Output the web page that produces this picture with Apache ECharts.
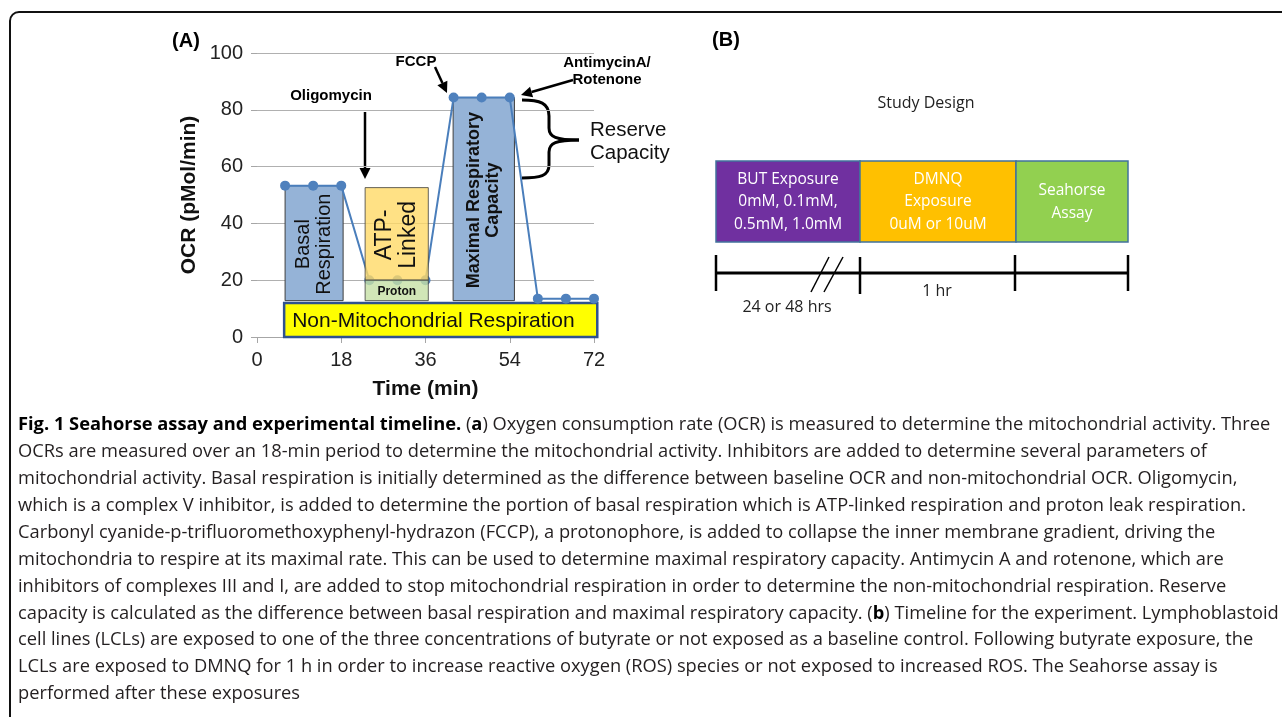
<!DOCTYPE html>
<html>
<head>
<meta charset="utf-8">
<script src="https://cdn.jsdelivr.net/npm/echarts@6/dist/echarts.min.js"></script>
<style>
html,body{margin:0;padding:0;background:#fff;}
#chart{width:1282px;height:717px;}
</style>
</head>
<body>
<div id="chart"></div>
<script>
// ---------- Panel A data ----------
const timePoints = [6, 12, 18, 24, 30, 36, 42, 48, 54, 60, 66, 72];
const ocrValues  = [53.3, 53.3, 53.3, 20, 20, 20, 84.3, 84.3, 84.3, 13.5, 13.5, 13.5];
const xTickValues = [0, 18, 36, 54, 72];
const yTickValues = [0, 20, 40, 60, 80, 100];

const regionNames = ['Basal\nRespiration', 'ATP-\nLinked', 'Proton', 'Maximal Respiratory\nCapacity', 'Non-Mitochondrial Respiration'];
const regionStart = [6.0, 23.1, 23.1, 41.9, 5.8];
const regionEnd   = [18.4, 36.6, 36.6, 55.0, 72.7];
const regionLow   = [12.8, 20.0, 12.8, 12.8, 0.0];
const regionHigh  = [53.3, 52.6, 20.0, 84.3, 12.0];

const injections = ['Oligomycin', 'FCCP', 'AntimycinA/\nRotenone'];

// ---------- Panel B data ----------
const stageLabels = ['BUT Exposure\n0mM, 0.1mM,\n0.5mM, 1.0mM', 'DMNQ\nExposure\n0uM or 10uM', 'Seahorse\nAssay'];
const durationLabels = ['24 or 48 hrs', '1 hr'];

// ---------- Caption ----------
const captionLines = [
  '{b|Fig. 1 Seahorse assay and experimental timeline.} ({b|a}) Oxygen consumption rate (OCR) is measured to determine the mitochondrial activity. Three',
  'OCRs are measured over an 18-min period to determine the mitochondrial activity. Inhibitors are added to determine several parameters of',
  'mitochondrial activity. Basal respiration is initially determined as the difference between baseline OCR and non-mitochondrial OCR. Oligomycin,',
  'which is a complex V inhibitor, is added to determine the portion of basal respiration which is ATP-linked respiration and proton leak respiration.',
  'Carbonyl cyanide-p-trifluoromethoxyphenyl-hydrazon (FCCP), a protonophore, is added to collapse the inner membrane gradient, driving the',
  'mitochondria to respire at its maximal rate. This can be used to determine maximal respiratory capacity. Antimycin A and rotenone, which are',
  'inhibitors of complexes III and I, are added to stop mitochondrial respiration in order to determine the non-mitochondrial respiration. Reserve',
  'capacity is calculated as the difference between basal respiration and maximal respiratory capacity. ({b|b}) Timeline for the experiment. Lymphoblastoid',
  'cell lines (LCLs) are exposed to one of the three concentrations of butyrate or not exposed as a baseline control. Following butyrate exposure, the',
  'LCLs are exposed to DMNQ for 1 h in order to increase reactive oxygen (ROS) species or not exposed to increased ROS. The Seahorse assay is',
  'performed after these exposures'
];

// ---------- styles ----------
const ARIAL = "'Liberation Sans', Arial, sans-serif";
const SANS = "'Open Sans', 'Noto Sans', sans-serif";
const regionStyle = [
  {fill: '#95b3d7', stroke: '#3f3f3f', lw: 1, opacity: 1, font: {size: 20, weight: 'normal'}, rot: true, color: '#111'},
  {fill: '#ffd966', stroke: '#3f3f3f', lw: 1, opacity: 0.8, font: {size: 23, weight: 'normal'}, rot: true, color: '#111'},
  {fill: '#c5e0a5', stroke: '#3f3f3f', lw: 1, opacity: 0.8, font: {size: 12, weight: 'bold'}, rot: false, color: '#111'},
  {fill: '#95b3d7', stroke: '#3f3f3f', lw: 1, opacity: 1, font: {size: 18, weight: 'bold'}, rot: true, color: '#111'},
  {fill: '#ffff00', stroke: '#2f528f', lw: 2.5, opacity: 1, font: {size: 21, weight: 'normal'}, rot: false, left: true, color: '#111'}
];

const chart = echarts.init(document.getElementById('chart'), null, {renderer: 'canvas'});

function regionSeries(indices, z) {
  return {
    type: 'custom',
    z: z,
    clip: false,
    silent: true,
    data: indices.map(i => [regionStart[i], regionEnd[i], regionLow[i], regionHigh[i]]),
    renderItem: function (params, api) {
      const i = indices[params.dataIndex];
      const st = regionStyle[i];
      const tl = api.coord([api.value(0), api.value(3)]);
      const br = api.coord([api.value(1), api.value(2)]);
      const w = br[0] - tl[0], h = br[1] - tl[1];
      const cx = tl[0] + w / 2, cy = tl[1] + h / 2;
      return {
        type: 'group',
        children: [{
          type: 'rect',
          shape: {x: tl[0], y: tl[1], width: w, height: h},
          style: {fill: st.fill, stroke: st.stroke, lineWidth: st.lw, opacity: st.opacity}
        }, {
          type: 'text',
          x: st.left ? tl[0] + 8 : cx,
          y: cy + 1,
          rotation: st.rot ? Math.PI / 2 : 0,
          style: {
            text: regionNames[i],
            fill: st.color,
            fontFamily: ARIAL,
            fontSize: st.font.size,
            fontWeight: st.font.weight,
            align: st.left ? 'left' : 'center',
            verticalAlign: 'middle',
            lineHeight: st.font.size * 1.05
          }
        }]
      };
    }
  };
}

// annotation graphics (arrows, brace)
function arrow(x1, y1, x2, y2) {
  const ang = Math.atan2(y2 - y1, x2 - x1);
  const L = 11, W = 5.5;
  const bx = x2 - L * Math.cos(ang), by = y2 - L * Math.sin(ang);
  const nx = -Math.sin(ang), ny = Math.cos(ang);
  return [
    {type: 'line', shape: {x1: x1, y1: y1, x2: bx, y2: by}, style: {stroke: '#000', lineWidth: 2.5}},
    {type: 'polygon', shape: {points: [[x2, y2], [bx + nx * W, by + ny * W], [bx - nx * W, by - ny * W]]}, style: {fill: '#000'}}
  ];
}
function bez(x1, y1, c1x, c1y, c2x, c2y, x2, y2) {
  return {type: 'bezierCurve', shape: {x1: x1, y1: y1, cpx1: c1x, cpy1: c1y, cpx2: c2x, cpy2: c2y, x2: x2, y2: y2}, style: {fill: null, stroke: '#000', lineWidth: 3}};
}
function seg(x1, y1, x2, y2, lw) {
  return {type: 'line', shape: {x1: x1, y1: y1, x2: x2, y2: y2}, style: {stroke: '#000', lineWidth: lw}};
}

const graphics = [];
// outer border
graphics.push({type: 'rect', shape: {x: 10, y: 12, width: 1320, height: 740, r: 9}, style: {fill: null, stroke: '#111', lineWidth: 2}});
// panel letters
graphics.push({type: 'text', x: 186, y: 41, style: {text: '(A)', fontFamily: ARIAL, fontSize: 20, fontWeight: 'bold', fill: '#000', align: 'center', verticalAlign: 'middle'}});
graphics.push({type: 'text', x: 726, y: 40, style: {text: '(B)', fontFamily: ARIAL, fontSize: 20, fontWeight: 'bold', fill: '#000', align: 'center', verticalAlign: 'middle'}});
// injection labels
graphics.push({type: 'text', x: 331, y: 96, style: {text: injections[0], fontFamily: ARIAL, fontSize: 15, fontWeight: 'bold', fill: '#000', align: 'center', verticalAlign: 'middle'}});
graphics.push({type: 'text', x: 416, y: 62, style: {text: injections[1], fontFamily: ARIAL, fontSize: 15, fontWeight: 'bold', fill: '#000', align: 'center', verticalAlign: 'middle'}});
graphics.push({type: 'text', x: 607, y: 71, style: {text: injections[2], fontFamily: ARIAL, fontSize: 15, fontWeight: 'bold', fill: '#000', align: 'center', verticalAlign: 'middle', lineHeight: 17}});
arrow(365, 112, 365, 179).forEach(g => graphics.push(g));
arrow(435, 67, 447, 93).forEach(g => graphics.push(g));
arrow(573, 80, 521, 95).forEach(g => graphics.push(g));
// brace
graphics.push(bez(522, 100, 540, 100, 549, 103, 549, 116));
graphics.push(seg(549, 116, 549, 128, 3));
graphics.push(bez(549, 128, 549, 137, 556, 140, 579, 140));
graphics.push(bez(579, 140, 556, 140, 549, 143, 549, 152));
graphics.push(seg(549, 152, 549, 165, 3));
graphics.push(bez(549, 165, 549, 176, 540, 178, 522, 178));
graphics.push({type: 'text', x: 590, y: 142, style: {text: 'Reserve\nCapacity', fontFamily: ARIAL, fontSize: 20.5, fill: '#111', align: 'left', verticalAlign: 'middle', lineHeight: 23}});

// ---------- Panel B ----------
graphics.push({type: 'text', x: 926, y: 103, style: {text: 'Study Design', fontFamily: SANS, fontSize: 16, fill: '#222', align: 'center', verticalAlign: 'middle'}});
const boxX = [716, 860, 1016, 1128];
const boxFill = ['#7030a0', '#ffc000', '#92d050'];
for (let i = 0; i < 3; i++) {
  graphics.push({type: 'rect', shape: {x: boxX[i], y: 161, width: boxX[i + 1] - boxX[i], height: 81}, style: {fill: boxFill[i], stroke: '#41719c', lineWidth: 1.5}});
  graphics.push({type: 'text', x: (boxX[i] + boxX[i + 1]) / 2, y: 202, style: {text: stageLabels[i], fontFamily: SANS, fontSize: 15.5, fill: '#fff', align: 'center', verticalAlign: 'middle', lineHeight: 22.5}});
}
// timeline
graphics.push(seg(716, 273, 1128, 273, 3));
[[716, 255, 291], [860, 257, 294], [1015, 255, 291], [1128, 255, 291]].forEach(t => graphics.push(seg(t[0], t[1], t[0], t[2], 2.5)));
graphics.push(seg(829, 257, 811, 292, 1.5));
graphics.push(seg(843, 257, 824, 292, 1.5));
graphics.push({type: 'text', x: 787, y: 307, style: {text: durationLabels[0], fontFamily: SANS, fontSize: 16, fill: '#222', align: 'center', verticalAlign: 'middle'}});
graphics.push({type: 'text', x: 937, y: 291, style: {text: durationLabels[1], fontFamily: SANS, fontSize: 16, fill: '#222', align: 'center', verticalAlign: 'middle'}});

// ---------- caption ----------
const CAP_SIZE = 18.3;
captionLines.forEach((ln, i) => {
  graphics.push({
    type: 'text', x: 18, y: 425 + i * 26.9,
    style: {
      text: ln, fontFamily: SANS, fontSize: CAP_SIZE, fill: '#231f20', align: 'left', verticalAlign: 'middle',
      rich: {b: {fontFamily: SANS, fontSize: CAP_SIZE, fontWeight: 'bold', fill: '#000'}}
    }
  });
});

const option = {
  animation: false,
  backgroundColor: '#fff',
  grid: {left: 257, right: 688, top: 53, bottom: 380, containLabel: false},
  xAxis: {
    type: 'value',
    min: xTickValues[0], max: xTickValues[xTickValues.length - 1], interval: xTickValues[1] - xTickValues[0],
    name: 'Time (min)', nameLocation: 'middle', nameGap: 42,
    nameTextStyle: {fontFamily: ARIAL, fontSize: 21, fontWeight: 'bold', color: '#111'},
    axisLine: {show: true, lineStyle: {color: '#a6a6a6', width: 1}},
    axisTick: {show: true, length: 6, lineStyle: {color: '#a6a6a6'}},
    axisLabel: {fontFamily: ARIAL, fontSize: 20, color: '#222', margin: 13},
    splitLine: {show: false}
  },
  yAxis: {
    type: 'value',
    min: yTickValues[0], max: yTickValues[yTickValues.length - 1], interval: yTickValues[1] - yTickValues[0],
    name: 'OCR (pMol/min)', nameLocation: 'middle', nameGap: 57,
    nameTextStyle: {fontFamily: ARIAL, fontSize: 21, fontWeight: 'bold', color: '#111'},
    axisLine: {show: false},
    axisTick: {show: true, length: 6, lineStyle: {color: '#a6a6a6'}},
    axisLabel: {fontFamily: ARIAL, fontSize: 20, color: '#222', margin: 14},
    splitLine: {show: true, lineStyle: {color: '#b0b0b0', width: 1}}
  },
  series: [
    regionSeries([0, 3, 4], 1),
    {
      type: 'line', z: 2,
      data: timePoints.map((t, i) => [t, ocrValues[i]]),
      symbol: 'circle', symbolSize: 10,
      lineStyle: {color: '#4a7ebb', width: 2},
      itemStyle: {color: '#4f81bd'},
      silent: true
    },
    regionSeries([1, 2], 3)
  ],
  graphic: graphics
};
chart.setOption(option);
</script>
</body>
</html>
